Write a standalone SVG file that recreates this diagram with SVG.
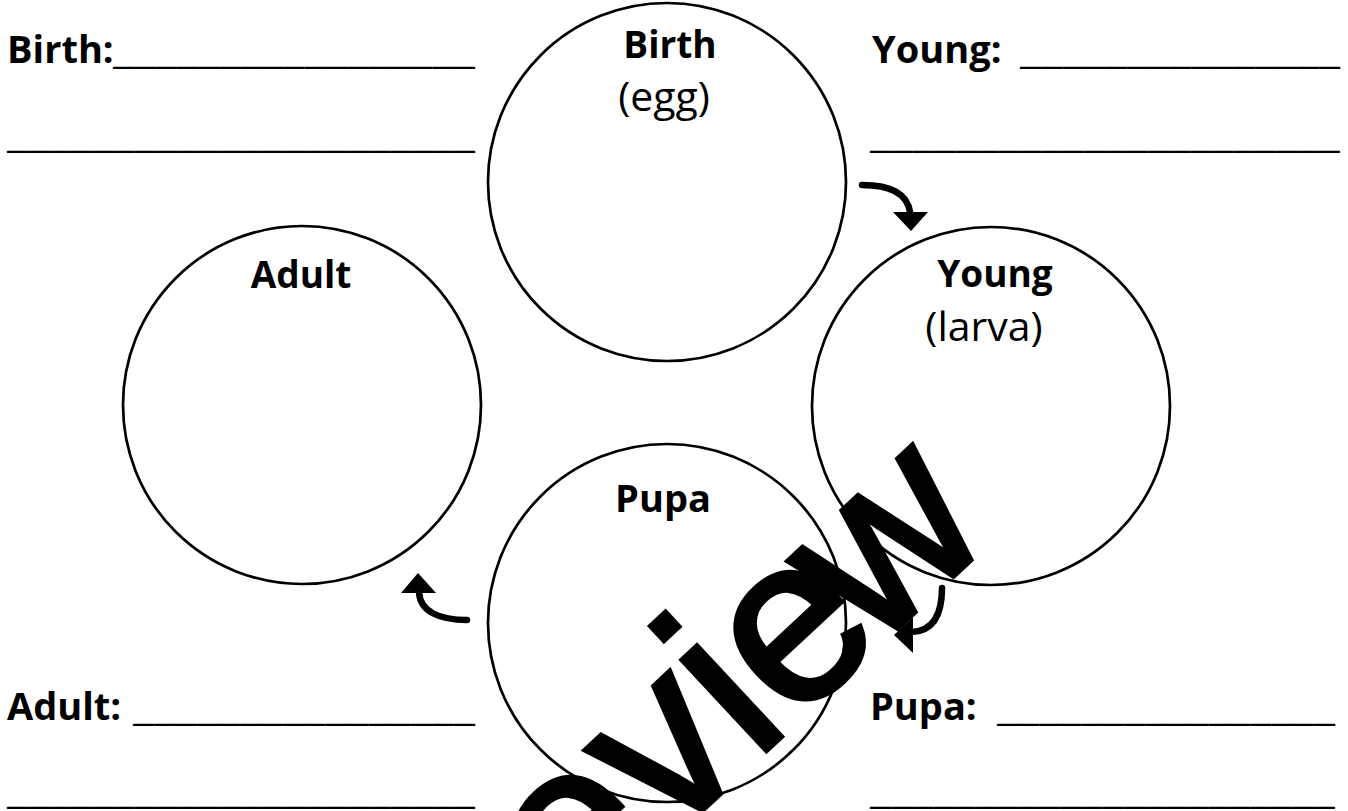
<svg xmlns="http://www.w3.org/2000/svg" width="1348" height="811" viewBox="0 0 1348 811">
<style>
.c{fill:none;stroke:#000;stroke-width:2.7}
.t{font-family:"Open Sans","Liberation Sans",sans-serif;font-weight:700;font-size:37px;fill:#000;text-anchor:middle}
.s{font-family:"Open Sans","Liberation Sans",sans-serif;font-weight:400;font-size:41px;fill:#000;text-anchor:middle}
.l{font-family:"Open Sans","Liberation Sans",sans-serif;font-weight:700;font-size:38px;fill:#000}
.u{font-family:"Open Sans","Liberation Sans",sans-serif;font-weight:400;font-size:38px;fill:#000}
.a{fill:none;stroke:#000;stroke-width:6.5;stroke-linecap:round}
.h{fill:#000}
.wm{font-family:"Liberation Sans",Arial,sans-serif;font-size:235px;fill:#000;stroke:#000;stroke-width:5}
</style>
<rect width="1348" height="811" fill="#fff"/>
<g id="labels">
<text class="l" x="7" y="63">Birth:</text>
<text class="u" x="113" y="63" textLength="362" lengthAdjust="spacingAndGlyphs">_________________</text>
<text class="u" x="7" y="147" textLength="468" lengthAdjust="spacingAndGlyphs">______________________</text>
<text class="l" x="872" y="63">Young:</text>
<text class="u" x="1020" y="63" textLength="320" lengthAdjust="spacingAndGlyphs">_______________</text>
<text class="u" x="870" y="147" textLength="470" lengthAdjust="spacingAndGlyphs">______________________</text>
<text class="l" x="7" y="720">Adult:</text>
<text class="u" x="133" y="720" textLength="342" lengthAdjust="spacingAndGlyphs">________________</text>
<text class="u" x="7" y="803" textLength="468" lengthAdjust="spacingAndGlyphs">______________________</text>
<text class="l" x="870" y="720">Pupa:</text>
<text class="u" x="997" y="720" textLength="338" lengthAdjust="spacingAndGlyphs">________________</text>
<text class="u" x="870" y="803" textLength="465" lengthAdjust="spacingAndGlyphs">______________________</text>
</g>
<g id="node-birth">
<circle class="c" cx="667" cy="182" r="179"/>
<text class="t" x="670" y="58">Birth</text>
<text class="s" x="664" y="111">(egg)</text>
</g>
<g id="node-young">
<circle class="c" cx="991" cy="406" r="179"/>
<text class="t" x="995" y="287">Young</text>
<text class="s" x="984" y="341">(larva)</text>
</g>
<g id="node-pupa">
<circle class="c" cx="667" cy="623" r="179"/>
<text class="t" x="663" y="512" style="font-size:38px">Pupa</text>
</g>
<g id="node-adult">
<circle class="c" cx="302" cy="405" r="179"/>
<text class="t" x="301" y="288">Adult</text>
</g>
<g id="connectors">
<path class="a" d="M862,185 Q906,185 910,212"/>
<polygon class="h" points="893,212 928,212 911,231"/>
<path class="a" d="M942,588 C942,616 932,631 912,632"/>
<polygon class="h" points="894,635 913,617 913,653"/>
<path class="a" d="M467,620 C440,620 420,612 419,592"/>
<polygon class="h" points="418,573 401,593 436,593"/>
</g>
<g id="watermark">
<text class="wm" transform="translate(401.5,1091) rotate(-43)" x="0" y="0">Previe<tspan dx="-22">w</tspan></text>
</g>
</svg>
